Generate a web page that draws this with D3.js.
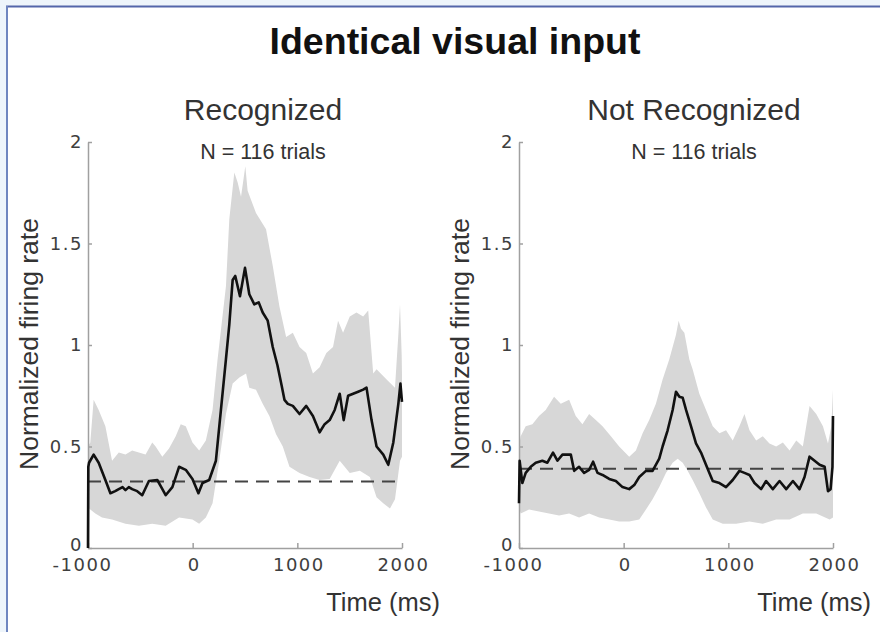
<!DOCTYPE html>
<html>
<head>
<meta charset="utf-8">
<script src="https://d3js.org/d3.v7.min.js"></script>
<style>
    body { margin: 0; background: #ffffff; }
    svg { display: block; }
    .axis path, .axis line { stroke: #a0a0a0; stroke-width: 1.5; }
    .axis text { font-family: "DejaVu Sans", sans-serif; font-size: 18px; fill: #3e3e3e; letter-spacing: 1.5px; }
    .label { font-family: "Liberation Sans", Arial, sans-serif; fill: #333333; }
</style>
</head>
<body>
<svg id="chart" width="880" height="632"></svg>
<script>
"use strict";

// Time axis (ms) and firing-rate axis.
const TIME_TICKS = [-1000, 0, 1000, 2000];
const RATE_TICKS = [0, 0.5, 1, 1.5, 2];

// Recognized trials: mean trace and the shaded band, [time, rate].
const recognizedMean = [
    [-1000, 0.00], [-997, 0.40], [-990, 0.42], [-946, 0.46], [-898, 0.42], [-834, 0.335],
    [-786, 0.27], [-740, 0.28], [-706, 0.29], [-670, 0.30], [-642, 0.285], [-610, 0.30],
    [-578, 0.29], [-530, 0.28], [-482, 0.26], [-418, 0.33], [-338, 0.335], [-300, 0.30],
    [-258, 0.26], [-194, 0.30], [-130, 0.40], [-66, 0.385], [-2, 0.34], [55, 0.27],
    [94, 0.32], [158, 0.335], [222, 0.43], [270, 0.68], [318, 0.93], [350, 1.10],
    [382, 1.32], [407, 1.34], [452, 1.24], [500, 1.38], [541, 1.25], [589, 1.20],
    [631, 1.21], [669, 1.16], [717, 1.12], [765, 0.99], [810, 0.90], [850, 0.80],
    [877, 0.73], [909, 0.71], [957, 0.70], [1021, 0.66], [1085, 0.70], [1149, 0.65],
    [1213, 0.57], [1261, 0.61], [1309, 0.63], [1357, 0.68], [1405, 0.76], [1443, 0.63],
    [1485, 0.75], [1533, 0.76], [1581, 0.77], [1629, 0.78], [1661, 0.79], [1709, 0.63],
    [1757, 0.50], [1821, 0.46], [1869, 0.41], [1917, 0.52], [1965, 0.71], [1985, 0.81],
    [2000, 0.72]
];
const recognizedUpper = [
    [-1000, 0.50], [-978, 0.52], [-946, 0.73], [-898, 0.68], [-834, 0.60], [-770, 0.43],
    [-706, 0.47], [-642, 0.46], [-578, 0.48], [-514, 0.47], [-450, 0.46], [-386, 0.52],
    [-354, 0.50], [-290, 0.45], [-226, 0.49], [-162, 0.55], [-114, 0.61], [-66, 0.60],
    [-2, 0.52], [62, 0.48], [126, 0.53], [190, 0.68], [238, 0.93], [318, 1.29],
    [350, 1.62], [398, 1.85], [430, 1.80], [462, 1.73], [503, 1.88], [525, 1.76],
    [605, 1.65], [701, 1.57], [765, 1.39], [829, 1.19], [893, 1.04], [957, 1.06],
    [1021, 0.99], [1085, 0.96], [1149, 0.86], [1213, 0.89], [1277, 0.96], [1341, 0.99],
    [1389, 1.12], [1437, 1.06], [1501, 1.14], [1565, 1.16], [1629, 1.14], [1677, 1.17],
    [1725, 0.86], [1757, 0.88], [1853, 0.83], [1933, 0.79], [1965, 1.05], [1981, 1.20],
    [1997, 0.95], [2000, 0.85]
];
const recognizedLower = [
    [-1000, 0.20], [-978, 0.19], [-930, 0.17], [-866, 0.15], [-770, 0.14], [-642, 0.12],
    [-514, 0.11], [-386, 0.12], [-258, 0.11], [-130, 0.15], [-2, 0.14], [62, 0.12],
    [126, 0.15], [190, 0.22], [254, 0.43], [318, 0.66], [382, 0.81], [446, 0.84],
    [510, 0.86], [541, 0.79], [605, 0.78], [669, 0.71], [733, 0.65], [797, 0.56],
    [861, 0.50], [925, 0.40], [1021, 0.37], [1117, 0.35], [1213, 0.335], [1309, 0.34],
    [1405, 0.43], [1501, 0.37], [1597, 0.38], [1693, 0.35], [1757, 0.25], [1821, 0.22],
    [1885, 0.195], [1933, 0.24], [1981, 0.43], [2000, 0.45]
];

// Not recognized trials.
const notRecognizedMean = [
    [-1000, 0.22], [-994, 0.43], [-968, 0.32], [-936, 0.37], [-888, 0.40], [-840, 0.42],
    [-777, 0.43], [-729, 0.42], [-675, 0.47], [-633, 0.43], [-585, 0.46], [-505, 0.46],
    [-473, 0.38], [-426, 0.40], [-378, 0.37], [-330, 0.385], [-292, 0.425], [-250, 0.37],
    [-202, 0.36], [-138, 0.34], [-75, 0.33], [-11, 0.30], [53, 0.29], [101, 0.31],
    [149, 0.35], [213, 0.38], [276, 0.38], [340, 0.44], [372, 0.50], [420, 0.58],
    [468, 0.68], [500, 0.77], [532, 0.745], [564, 0.74], [596, 0.68], [643, 0.60],
    [691, 0.515], [739, 0.47], [771, 0.43], [819, 0.37], [851, 0.33], [915, 0.32],
    [978, 0.30], [1042, 0.335], [1106, 0.38], [1154, 0.37], [1202, 0.36], [1250, 0.32],
    [1313, 0.29], [1361, 0.33], [1425, 0.29], [1489, 0.33], [1553, 0.29], [1617, 0.33],
    [1680, 0.29], [1728, 0.35], [1776, 0.45], [1824, 0.43], [1872, 0.41], [1920, 0.40],
    [1952, 0.28], [1977, 0.29], [1995, 0.40], [2000, 0.65]
];
const notRecognizedUpper = [
    [-1000, 0.50], [-984, 0.55], [-936, 0.60], [-872, 0.61], [-809, 0.65], [-745, 0.68],
    [-665, 0.745], [-601, 0.71], [-521, 0.73], [-458, 0.65], [-394, 0.61], [-330, 0.66],
    [-266, 0.63], [-202, 0.60], [-122, 0.55], [-43, 0.50], [53, 0.45], [117, 0.48],
    [181, 0.565], [244, 0.63], [308, 0.71], [372, 0.83], [436, 0.93], [500, 1.05],
    [525, 1.12], [548, 1.08], [580, 1.06], [627, 0.93], [659, 0.88], [723, 0.76],
    [787, 0.68], [851, 0.60], [915, 0.565], [978, 0.58], [1042, 0.53], [1106, 0.60],
    [1154, 0.66], [1202, 0.58], [1266, 0.53], [1329, 0.55], [1393, 0.515], [1457, 0.50],
    [1521, 0.52], [1585, 0.48], [1649, 0.53], [1712, 0.50], [1776, 0.70], [1840, 0.66],
    [1904, 0.60], [1952, 0.515], [1984, 0.60], [2000, 0.78]
];
const notRecognizedLower = [
    [-1000, 0.20], [-984, 0.17], [-904, 0.19], [-809, 0.18], [-713, 0.17], [-617, 0.16],
    [-521, 0.17], [-426, 0.15], [-330, 0.17], [-234, 0.15], [-138, 0.14], [-43, 0.13],
    [53, 0.13], [149, 0.14], [213, 0.19], [276, 0.24], [340, 0.30], [404, 0.37],
    [468, 0.42], [516, 0.44], [564, 0.42], [611, 0.38], [659, 0.335], [723, 0.27],
    [787, 0.20], [851, 0.14], [947, 0.12], [1074, 0.12], [1202, 0.13], [1329, 0.12],
    [1457, 0.14], [1585, 0.14], [1712, 0.17], [1840, 0.17], [1968, 0.14], [2000, 0.15]
];

// Pre-stimulus baseline (dashed line) for each condition.
const baselineRates = [0.327, 0.39];
const panelTitles = ["Recognized", "Not Recognized"];
const trialCounts = [116, 116];

const WIDTH = 880;
const HEIGHT = 632;
const PLOT_WIDTH = 314;
const PLOT_TOP = 142;
const PLOT_BOTTOM = 548;
const PANEL_LEFTS = [88, 519];

const svg = d3.select("#chart");

/**
 * Draws the light frame around the figure.
 */
function drawFrame() {
    svg.append("rect")
        .attr("width", WIDTH)
        .attr("height", HEIGHT)
        .attr("fill", "#eef5fb");
    svg.append("rect")
        .attr("x", 7)
        .attr("y", 6)
        .attr("width", WIDTH - 7)
        .attr("height", HEIGHT - 6)
        .attr("fill", "#ffffff");
    svg.append("line")
        .attr("x1", 6).attr("x2", WIDTH)
        .attr("y1", 6.5).attr("y2", 6.5)
        .attr("stroke", "#5466aa")
        .attr("stroke-width", 2);
    svg.append("line")
        .attr("x1", 7).attr("x2", 7)
        .attr("y1", 6).attr("y2", HEIGHT)
        .attr("stroke", "#6f86c0")
        .attr("stroke-width", 2);
}

/**
 * Draws one panel: shaded band, axes, baseline and mean firing rate.
 *
 * @param index {Number} Panel number (0 = recognized, 1 = not recognized).
 * @param mean {Array} Mean trace, [time, rate].
 * @param upper {Array} Upper edge of the band.
 * @param lower {Array} Lower edge of the band.
 */
function drawPanel(index, mean, upper, lower) {
    let left = PANEL_LEFTS[index];
    let x = d3.scaleLinear().domain([-1000, 2000]).range([left, left + PLOT_WIDTH]);
    let y = d3.scaleLinear().domain([0, 2]).range([PLOT_BOTTOM, PLOT_TOP]);
    let g = svg.append("g").attr("class", "panel");

    let line = d3.line()
        .x(function (d) { return x(d[0]); })
        .y(function (d) { return y(d[1]); });

    // Band: upper edge forward, lower edge backward.
    g.append("path")
        .attr("d", line(upper.concat(lower.slice().reverse())) + "Z")
        .attr("fill", "#d7d7d7");

    let xAxis = g.append("g")
        .attr("class", "axis")
        .attr("transform", "translate(0," + PLOT_BOTTOM + ")")
        .call(d3.axisBottom(x)
            .tickValues(TIME_TICKS)
            .tickFormat(function (d) { return String(d); })
            .tickSizeInner(-5)
            .tickSizeOuter(0)
            .tickPadding(10));
    // The minus sign pushes the first label slightly to the left.
    xAxis.selectAll(".tick text")
        .attr("dx", function (d) { return d < 0 ? -6 : 1; });

    let yAxis = g.append("g")
        .attr("class", "axis")
        .attr("transform", "translate(" + left + ",0)")
        .call(d3.axisLeft(y)
            .tickValues(RATE_TICKS)
            .tickFormat(function (d) { return String(d); })
            .tickSizeInner(-4)
            .tickSizeOuter(0)
            .tickPadding(5));
    // The zero label sits a bit low, just above the time labels.
    yAxis.selectAll(".tick text")
        .attr("dy", function (d) { return d === 0 ? "0.12em" : "0.32em"; });

    g.append("line")
        .attr("x1", x(-1000))
        .attr("x2", x(2000))
        .attr("y1", y(baselineRates[index]))
        .attr("y2", y(baselineRates[index]))
        .attr("stroke", "#444444")
        .attr("stroke-width", 2)
        .attr("stroke-dasharray", "13,8");

    g.append("path")
        .attr("d", line(mean))
        .attr("fill", "none")
        .attr("stroke", "#111111")
        .attr("stroke-width", 2.6)
        .attr("stroke-linejoin", "round");

    // Texts.
    g.append("text")
        .attr("class", "label")
        .attr("x", left + PLOT_WIDTH / 2 + 18)
        .attr("y", 120)
        .attr("text-anchor", "middle")
        .style("font-size", "30px")
        .text(panelTitles[index]);
    g.append("text")
        .attr("class", "label")
        .attr("x", left + PLOT_WIDTH / 2 + 18)
        .attr("y", 159)
        .attr("text-anchor", "middle")
        .style("font-size", "21.5px")
        .text("N = " + trialCounts[index] + " trials");
    g.append("text")
        .attr("class", "label")
        .attr("transform", "translate(" + (left - 50) + ",344) rotate(-90)")
        .attr("text-anchor", "middle")
        .style("font-size", "26.5px")
        .text("Normalized firing rate");
    g.append("text")
        .attr("class", "label")
        .attr("x", left + PLOT_WIDTH + 38)
        .attr("y", 611)
        .attr("text-anchor", "end")
        .style("font-size", "25.5px")
        .text("Time (ms)");
}

drawFrame();

svg.append("text")
    .attr("x", 455)
    .attr("y", 54)
    .attr("text-anchor", "middle")
    .style("font-family", "'Liberation Sans', Arial, sans-serif")
    .style("font-weight", "bold")
    .style("font-size", "37.5px")
    .style("fill", "#111111")
    .text("Identical visual input");

drawPanel(0, recognizedMean, recognizedUpper, recognizedLower);
drawPanel(1, notRecognizedMean, notRecognizedUpper, notRecognizedLower);
</script>
</body>
</html>
